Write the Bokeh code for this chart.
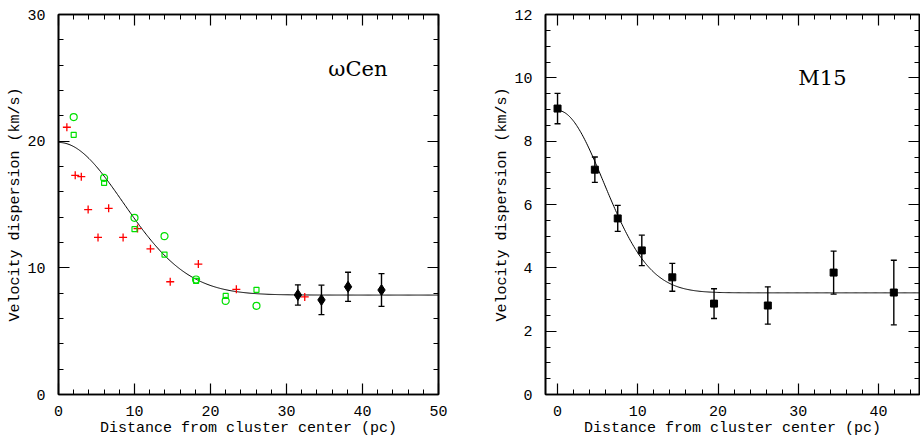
import numpy as np
from bokeh.plotting import figure
from bokeh.models import Range1d, LinearAxis, SingleIntervalTicker
from bokeh.layouts import row
from bokeh.core.properties import value
from bokeh.embed import file_html
from bokeh.resources import INLINE

# ---------------- data: omega Cen ----------------
wc_plus_x = [1.1, 2.2, 3.0, 3.9, 5.2, 6.6, 8.5, 10.4, 12.1, 14.7, 18.4, 23.4, 32.4]
wc_plus_y = [21.1, 17.3, 17.2, 14.6, 12.4, 14.7, 12.4, 13.1, 11.5, 8.9, 10.3, 8.3, 7.7]
wc_circ_x = [2.0, 6.0, 10.0, 13.95, 18.1, 22.0, 26.05]
wc_circ_y = [21.9, 17.1, 13.95, 12.5, 9.08, 7.39, 7.0]
wc_sq_x = [2.0, 6.0, 10.0, 13.95, 18.1, 22.0, 26.05]
wc_sq_y = [20.5, 16.7, 13.05, 11.05, 8.97, 7.78, 8.26]
wc_dia_x = [31.5, 34.6, 38.1, 42.5]
wc_dia_y = [7.86, 7.47, 8.5, 8.25]
wc_dia_err = [0.8, 1.16, 1.15, 1.3]
# fitted profile parameters
wc_sigma0, wc_sigma_inf, wc_scale = 19.9, 7.85, 8.5

# ---------------- data: M15 ----------------
m15_x = [0.0, 4.65, 7.5, 10.5, 14.3, 19.5, 26.2, 34.4, 41.9]
m15_y = [9.03, 7.10, 5.56, 4.55, 3.70, 2.87, 2.81, 3.85, 3.22]
m15_err = [0.48, 0.40, 0.41, 0.48, 0.44, 0.47, 0.59, 0.68, 1.02]
m15_sigma0, m15_sigma_inf, m15_scale = 8.97, 3.21, 5.74

x_label = "Distance from cluster center (pc)"
y_label = "Velocity dispersion (km/s)"

AX_FONT = "Liberation Mono"
TITLE_FONT = "DejaVu Serif"


def profile(r, s0, sinf, sc):
    return sinf + (s0 - sinf) * np.exp(-r ** 2 / (2 * sc ** 2))


def style(p, xint, yint, yminor):
    xt = SingleIntervalTicker(interval=xint, num_minor_ticks=5)
    yt = SingleIntervalTicker(interval=yint, num_minor_ticks=yminor)
    common = dict(major_tick_in=11, major_tick_out=0, minor_tick_in=5,
                  minor_tick_out=0, axis_line_width=1.6, axis_line_color="black",
                  major_tick_line_width=1.2, minor_tick_line_width=1.0,
                  major_tick_line_color="black", minor_tick_line_color="black")
    for ax in p.xaxis:
        ax.ticker = xt
    for ax in p.yaxis:
        ax.ticker = yt
    for ax in list(p.xaxis) + list(p.yaxis):
        for k, v in common.items():
            setattr(ax, k, v)
        ax.major_label_text_font = AX_FONT
        ax.major_label_text_font_size = "15px"
        ax.major_label_text_color = "black"
        ax.axis_label_text_font = AX_FONT
        ax.axis_label_text_font_size = "15px"
        ax.axis_label_text_font_style = "normal"
        ax.axis_label_text_color = "black"
    p.xaxis.major_label_standoff = 11
    p.xaxis.axis_label_standoff = 1
    p.yaxis.major_label_standoff = 13
    p.yaxis.axis_label_standoff = 0
    p.xaxis.axis_label = x_label
    p.yaxis.axis_label = y_label
    top = LinearAxis(ticker=xt, major_label_text_font_size="1px",
                     major_label_text_color=None, major_label_standoff=0, **common)
    right = LinearAxis(ticker=yt, major_label_text_font_size="1px",
                       major_label_text_color=None, major_label_standoff=0, **common)
    p.add_layout(top, "above")
    p.add_layout(right, "right")
    p.xgrid.visible = False
    p.ygrid.visible = False
    p.outline_line_color = "black"
    p.outline_line_width = 1.6


# ---------------- left panel ----------------
p1 = figure(width=450, height=444, output_backend="svg", toolbar_location=None,
            x_range=Range1d(0, 50), y_range=Range1d(0, 30),
            min_border_left=58, min_border_right=12, min_border_top=14,
            min_border_bottom=50)
style(p1, 10, 10, 5)

r1 = np.linspace(0, 50, 400)
p1.line(r1, profile(r1, wc_sigma0, wc_sigma_inf, wc_scale), line_color="black", line_width=1.0)
p1.scatter(wc_plus_x, wc_plus_y, marker="cross", size=8, line_color="#ff0000", line_width=1.3)
p1.scatter(wc_circ_x, wc_circ_y, marker="circle", size=7, fill_color=None,
           line_color="#00e000", line_width=1.2)
p1.scatter(wc_sq_x, wc_sq_y, marker="square", size=5, fill_color=None,
           line_color="#00e000", line_width=1.2)
dx = np.array(wc_dia_x); dy = np.array(wc_dia_y); de = np.array(wc_dia_err)
p1.segment(dx, dy - de, dx, dy + de, line_color="black", line_width=1.4)
p1.scatter(dx, dy - de, marker="dash", size=6, line_color="black", line_width=1.3)
p1.scatter(dx, dy + de, marker="dash", size=6, line_color="black", line_width=1.3)
p1.scatter(dx, dy, marker="diamond", size=11, fill_color="black", line_color="black")
p1.text([35.5], [25.7], text=["\u03c9Cen"], text_font=value(TITLE_FONT), text_font_size="21px",
        text_color="black", text_baseline="alphabetic", text_align="left")

# ---------------- right panel ----------------
p2 = figure(width=470, height=444, output_backend="svg", toolbar_location=None,
            x_range=Range1d(-1.5, 45.1), y_range=Range1d(0, 12),
            min_border_left=95, min_border_right=1, min_border_top=14,
            min_border_bottom=50)
style(p2, 10, 2, 4)

r2 = np.linspace(0, 45.1, 400)
p2.line(r2, profile(r2, m15_sigma0, m15_sigma_inf, m15_scale), line_color="black", line_width=1.0)
mx = np.array(m15_x); my = np.array(m15_y); me = np.array(m15_err)
p2.segment(mx, my - me, mx, my + me, line_color="black", line_width=1.4)
p2.scatter(mx, my - me, marker="dash", size=6, line_color="black", line_width=1.3)
p2.scatter(mx, my + me, marker="dash", size=6, line_color="black", line_width=1.3)
p2.scatter(mx, my, marker="square", size=7, fill_color="black", line_color="black")
p2.text([30.0], [10.0], text=["M15"], text_font=value(TITLE_FONT), text_font_size="21px",
        text_color="black", text_baseline="alphabetic", text_align="left")

layout = row(p1, p2)
open("out.html", "w").write(file_html(layout, INLINE))
